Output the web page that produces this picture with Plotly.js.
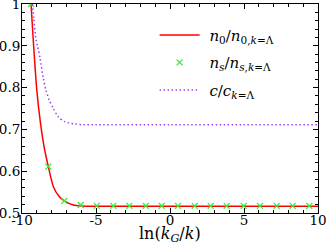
<!DOCTYPE html>
<html>
<head>
<meta charset="utf-8">
<script src="https://cdn.plot.ly/plotly-3.0.1.min.js"></script>
<style>html,body{margin:0;padding:0;background:#fff}#plot{width:327px;height:246px}</style>
</head>
<body>
<div id="plot"></div>
<script>
// n0 / n0,k=Λ (solid red)
const n0X = [-9.39, -9.24, -9.0, -8.74, -8.51, -8.22, -7.88, -7.5, -7.14, -6.53, -6.03, -5.0, 0, 5, 10];
const n0Y = [1.0, 0.914, 0.794, 0.712, 0.659, 0.611, 0.563, 0.540, 0.529, 0.519, 0.517, 0.516, 0.516, 0.516, 0.516];
// ns / ns,k=Λ (green crosses)
const nsX = [-9.39, -8.22, -7.14, -6.03, -4.95, -3.83, -2.75, -1.64, -0.56, 0.54, 1.67, 2.75, 3.83, 4.98, 6.08, 7.21, 8.29, 9.41];
const nsY = [1.0, 0.611, 0.529, 0.519, 0.517, 0.517, 0.517, 0.517, 0.517, 0.517, 0.517, 0.517, 0.517, 0.517, 0.517, 0.517, 0.517, 0.517];
// c / c_k=Λ (dotted purple)
const cX = [-9.3, -9.2, -9.05, -8.94, -8.78, -8.56, -8.38, -8.16, -7.88, -7.55, -7.09, -6.42, -5.86, -5.0, 0, 5, 10];
const cY = [1.0, 0.965, 0.914, 0.898, 0.870, 0.822, 0.794, 0.770, 0.750, 0.730, 0.718, 0.713, 0.711, 0.711, 0.711, 0.711, 0.711];

const xTickVals = [-10, -5, 0, 5, 10];
const xTickText = ["-10", "-5", "0", "5", "10"];
const yTickVals = [0.5, 0.6, 0.7, 0.8, 0.9, 1.0];
const yTickText = ["0.5", "0.6", "0.7", "0.8", "0.9", "1"];

const serif = "DejaVu Serif";
const pad = "\u00a0";

const traces = [
  {x: n0X, y: n0Y, mode: "lines", line: {color: "#ff0000", width: 1.5, shape: "spline", smoothing: 0.7},
   name: pad + "<i>n</i><sub>0</sub>/<i>n</i><sub>0,<i>k</i>=Λ</sub>", legendgroup: "a"},
  {x: nsX, y: nsY, mode: "markers", marker: {symbol: "x-thin", size: 6, color: "#33ee33", line: {color: "#33ee33", width: 1.3}},
   name: pad + "<i>n<sub>s</sub></i>/<i>n</i><sub><i>s</i>,<i>k</i>=Λ</sub>", legendgroup: "b"},
  {x: cX, y: cY, mode: "lines", line: {color: "#a040f0", width: 1.5, dash: "1.5px,2.5px", shape: "spline", smoothing: 0.7},
   name: pad + "<i>c</i>/<i>c</i><sub><i>k</i>=Λ</sub>", legendgroup: "c"}
];

const axisCommon = {
  showline: true, linecolor: "#000", linewidth: 1, mirror: "ticks",
  ticks: "inside", ticklen: 5, tickcolor: "#000", tickwidth: 1,
  showgrid: false, zeroline: false,
  tickfont: {family: serif, size: 13.5, color: "#000"},
  tickmode: "array", ticklabeloverflow: "allow"
};

const layout = {
  width: 327, height: 246,
  margin: {l: 22, r: 9, t: 4, b: 33},
  paper_bgcolor: "#fff", plot_bgcolor: "#fff",
  font: {family: serif},
  showlegend: true,
  legend: {x: 0.448, y: 0.93, xanchor: "left", yanchor: "top", bgcolor: "rgba(0,0,0,0)",
           font: {family: serif, size: 15, color: "#000"}, itemwidth: 40, tracegroupgap: 5},
  xaxis: Object.assign({}, axisCommon, {
    range: [-10, 10], tickvals: xTickVals, ticktext: xTickText,
    minor: {dtick: 1, ticks: "inside", ticklen: 3, tickcolor: "#000", showgrid: false},
    ticklabelstandoff: -5
  }),
  yaxis: Object.assign({}, axisCommon, {
    range: [0.5, 1.0], tickvals: yTickVals, ticktext: yTickText,
    minor: {dtick: 0.02, ticks: "inside", ticklen: 3, tickcolor: "#000", showgrid: false},
    ticklabelstandoff: -2
  }),
  annotations: [{
    text: "ln(<i>k<sub>G</sub></i>/<i>k</i>)", xref: "paper", yref: "paper",
    x: 0.5, y: -0.105, xanchor: "center", yanchor: "middle", showarrow: false,
    font: {family: serif, size: 16, color: "#000"}
  }]
};

Plotly.newPlot("plot", traces, layout, {displayModeBar: false, staticPlot: true});
</script>
</body>
</html>
